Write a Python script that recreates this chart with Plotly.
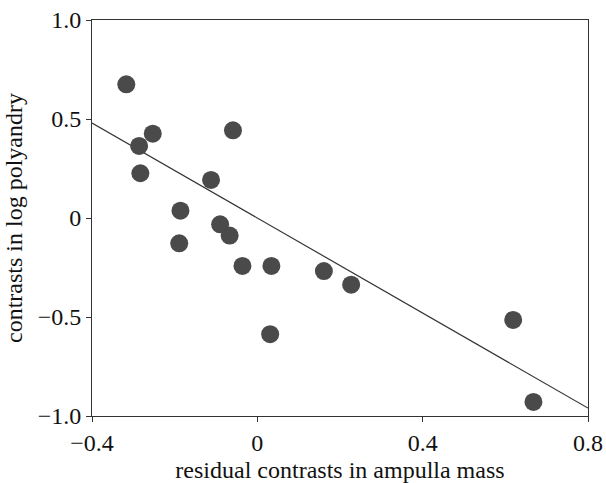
import plotly.graph_objects as go

x_vals = [-0.317, -0.286, -0.253, -0.283, -0.186, -0.189, -0.059, -0.112, -0.090,
          -0.067, -0.036, 0.034, 0.161, 0.227, 0.031, 0.619, 0.668]
y_vals = [0.675, 0.364, 0.426, 0.226, 0.037, -0.128, 0.443, 0.192, -0.032,
          -0.089, -0.242, -0.242, -0.268, -0.337, -0.587, -0.515, -0.929]

fit_x = [-0.4, 0.8]
fit_y = [0.48, -0.96]

x_ticks = [-0.4, 0, 0.4, 0.8]
x_labels = ["−0.4", "0", "0.4", "0.8"]
y_ticks = [-1.0, -0.5, 0, 0.5, 1.0]
y_labels = ["−1.0", "−0.5", "0", "0.5", "1.0"]

fig = go.Figure()
fig.add_trace(go.Scatter(x=fit_x, y=fit_y, mode="lines",
                         line=dict(color="#333333", width=1.2), showlegend=False))
fig.add_trace(go.Scatter(x=x_vals, y=y_vals, mode="markers",
                         marker=dict(color="#4a4a4a", size=18), showlegend=False))

font = dict(family="Liberation Serif, Times New Roman, serif", color="#111111")
axis_common = dict(showgrid=False, zeroline=False, showline=True, linecolor="#333333",
                   linewidth=1, mirror=True, ticks="outside", ticklen=5,
                   tickcolor="#333333", tickfont=dict(size=24, **font), automargin=False)
fig.update_xaxes(range=[-0.4, 0.8], tickvals=x_ticks, ticktext=x_labels,
                 title=dict(text="residual contrasts in ampulla mass", font=dict(size=24, **font), standoff=8),
                 **axis_common)
fig.update_yaxes(range=[-1.0, 1.0], tickvals=y_ticks, ticktext=y_labels,
                 title=dict(text="contrasts in log polyandry", font=dict(size=24, **font), standoff=8),
                 **axis_common)
fig.update_layout(width=606, height=483, plot_bgcolor="white", paper_bgcolor="white",
                  margin=dict(l=92, r=18, t=20, b=67), font=font)
fig.write_html("out.html", config={"displayModeBar": False},
               post_script="document.body.style.margin='0';")
